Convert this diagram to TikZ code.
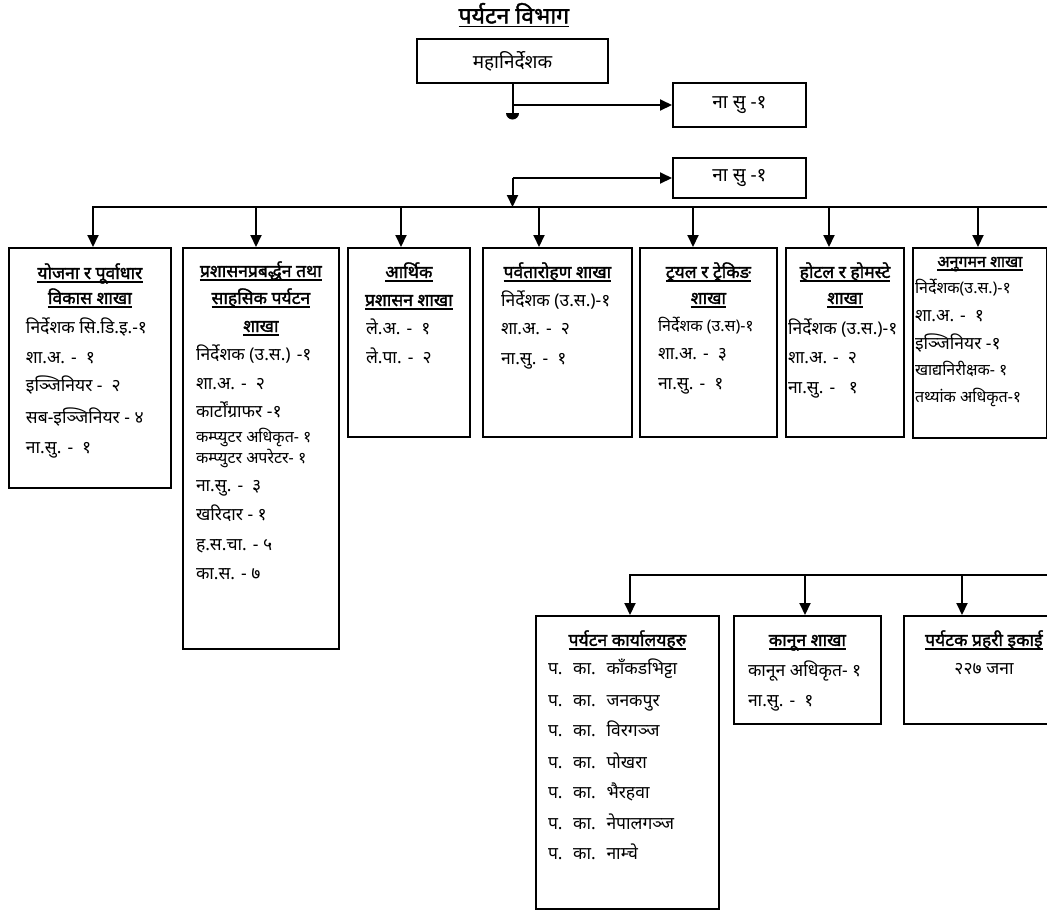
\documentclass[tikz,border=0pt]{standalone}
\usepackage{fontspec}
\setmainfont{Noto Sans}[Script=Devanagari,BoldFont=Noto Sans,BoldFeatures={FakeBold=1.6}]
\usetikzlibrary{arrows.meta}

% underlined heading text
\newcommand\hdline[1]{\setbox0=\hbox{#1}\rlap{\rule[-3.5pt]{\wd0}{1.4pt}}\box0}
\newcommand\rowind{14pt}
\newcommand\smalltxt{\fontsize{16}{18}\selectfont}
\newcommand\brhead[2][28pt]{\baselineskip=#1\relax\centerline{\hdline{\textbf{#2}}}}
\newcommand\brrow[2][29pt]{\baselineskip=#1\relax\leftline{\hspace*{\rowind}#2}}

\tikzset{
  unit/.style={draw,line width=2pt,inner sep=0pt,anchor=north west,font=\fontsize{17.5}{29}\selectfont},
  post/.style={draw,line width=2pt,font=\fontsize{19}{22}\selectfont},
  link/.style={line width=2pt,-{Triangle[length=12pt,width=11pt]}},
  bus/.style={line width=2.4pt,line cap=rect},
}

\begin{document}
\begin{tikzpicture}[x=1pt,y=-1pt]
\path[fill=white,use as bounding box] (0,0) rectangle (1047,911);

\node[font=\fontsize{23}{25}\selectfont] (title) at (514,15) {\hdline{\textbf{पर्यटन विभाग}}};
\node[post,minimum width=191pt,minimum height=44pt] (dg) at (512.5,61) {महानिर्देशक};
\node[post,minimum width=133pt,minimum height=44pt] (ns1) at (739.5,105) {ना सु -१};
\node[post,minimum width=133pt,minimum height=40pt] (ns2) at (739.5,178) {ना सु -१};

% branches
\node[unit] (b1) at (8,247) {\parbox[c][240pt][t]{162pt}{\def\rowind{17pt}\hbox{}
  \brhead[31pt]{योजना र पूर्वाधार}\brhead[25pt]{विकास शाखा}
  \brrow{निर्देशक सि.डि.इ.-१}\brrow[30pt]{शा.अ. -~ १}\brrow[28pt]{इञ्जिनियर -~ २}
  \brrow[32pt]{सब-इञ्जिनियर - ४}\brrow[30pt]{ना.सु. -~ १}}};
\node[unit] (b2) at (182,247) {\parbox[c][401pt][t]{156pt}{\def\rowind{13pt}\hbox{}
  \brhead[29pt]{प्रशासनप्रबर्द्धन तथा}\brhead[27pt]{साहसिक पर्यटन}\brhead[28pt]{शाखा}
  \brrow[28pt]{निर्देशक (उ.स.) -१}\brrow[29pt]{शा.अ. -~ २}\brrow[28pt]{कार्टोंग्राफर -१}
  \brrow[25pt]{\smalltxt कम्प्युटर अधिकृत- १}\brrow[21pt]{\smalltxt कम्प्युटर अपरेटर- १}
  \brrow[28pt]{ना.सु. -~ ३}\brrow[29pt]{खरिदार - १}\brrow[30pt]{ह.स.चा. - ५}\brrow[29pt]{का.स. - ७}}};
\node[unit] (b3) at (347,247) {\parbox[c][189pt][t]{122pt}{\def\rowind{18pt}\hbox{}
  \brhead[30pt]{आर्थिक}\brhead[28pt]{प्रशासन शाखा}
  \brrow[28pt]{ले.अ. -~ १}\brrow[29pt]{ले.पा. -~ २}}};
\node[unit] (b4) at (482,247) {\parbox[c][189pt][t]{149pt}{\def\rowind{18pt}\hbox{}
  \brhead[30pt]{पर्वतारोहण शाखा}
  \brrow[28pt]{निर्देशक (उ.स.)-१}\brrow[28pt]{शा.अ. -~ २}\brrow[30pt]{ना.सु. -~ १}}};
\node[unit] (b5) at (639,247) {\parbox[c][189pt][t]{137pt}{\def\rowind{18pt}\hbox{}
  \brhead[30pt]{ट्रयल र ट्रेकिङ}\brhead[26pt]{शाखा}
  \brrow[27pt]{\smalltxt निर्देशक (उ.स)-१}\brrow[28pt]{शा.अ. -~ ३}\brrow[30pt]{ना.सु. -~ १}}};
\node[unit] (b6) at (785,247) {\parbox[c][189pt][t]{118pt}{\def\rowind{2pt}\hbox{}
  \brhead[30pt]{होटल र होमस्टे}\brhead[26pt]{शाखा}
  \brrow[30pt]{निर्देशक (उ.स.)-१}\brrow[29pt]{शा.अ. -~ २}\brrow[30pt]{ना.सु. -~~ १}}};
\node[unit] (b7) at (912,247) {\parbox[c][190pt][t]{134pt}{\def\rowind{2pt}\hbox{}
  \brhead[19pt]{\smalltxt अनुगमन शाखा}
  \brrow[26pt]{\smalltxt निर्देशक(उ.स.)-१}\brrow[28pt]{शा.अ. -~ १}\brrow[28pt]{इञ्जिनियर -१}
  \brrow[26pt]{\smalltxt खाद्यनिरीक्षक- १}\brrow[27pt]{\smalltxt तथ्यांक अधिकृत-१}}};

% lower row
\node[unit] (c1) at (535,615) {\parbox[c][293pt][t]{183pt}{\def\rowind{12pt}\hbox{}
  \brhead[30pt]{पर्यटन कार्यालयहरु}
  \brrow[28pt]{प.~ का.~ काँकडभिट्टा}\brrow[32pt]{प.~ का.~ जनकपुर}\brrow[30pt]{प.~ का.~ विरगञ्ज}
  \brrow[32pt]{प.~ का.~ पोखरा}\brrow[30pt]{प.~ का.~ भैरहवा}\brrow[31pt]{प.~ का.~ नेपालगञ्ज}
  \brrow[30pt]{प.~ का.~ नाम्चे}}};
\node[unit] (c2) at (733,615) {\parbox[c][108pt][t]{147pt}{\hbox{}
  \brhead[30pt]{कानून शाखा}
  \brrow[30pt]{कानून अधिकृत- १}\brrow[30pt]{ना.सु. -~ १}}};
\node[unit] (c3) at (903,615) {\parbox[c][108pt][t]{160pt}{\hbox{}
  \brhead[30pt]{पर्यटक प्रहरी इकाई}
  \baselineskip=28pt\centerline{२२७ जना}}};

% top connectors
\coordinate (tee1) at (dg.south |- ns1.west);
\coordinate (stub) at ([yshift=-8pt]tee1);
\draw[line width=2pt] (dg.south) -- (stub);
\fill (stub) ++(-6.5pt,0) arc[start angle=180,end angle=360,radius=6.5pt] -- cycle;
\draw[link] (tee1) -- (ns1.west);

\coordinate (tee2) at (dg.south |- ns2.west);
\coordinate (hub) at (tee2 |- 0,207);
\draw[link] (tee2) -- (ns2.west);
\draw[link] (tee2) -- (hub);

% branch bus
\coordinate (busL) at (93,207);
\coordinate (busR) at (1060,207);
\draw[bus] (busL) -- (busR);
\foreach \b/\x in {b1/93,b2/256,b3/401,b4/539,b5/693,b6/829,b7/978} {
  \coordinate (d\b) at (\x,207);
  \draw[link] (d\b) -- (d\b |- \b.north);
}

% lower bus
\coordinate (lowL) at (630,575);
\coordinate (lowR) at (1060,575);
\draw[bus] (lowL) -- (lowR);
\foreach \c/\x in {c1/630,c2/805,c3/962} {
  \coordinate (d\c) at (\x,575);
  \draw[link] (d\c) -- (d\c |- \c.north);
}
\end{tikzpicture}
\end{document}
